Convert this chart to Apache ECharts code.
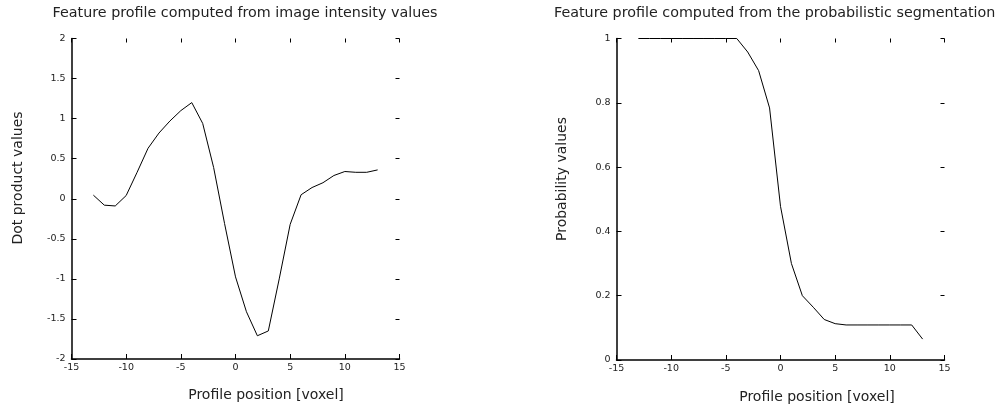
<!DOCTYPE html>
<html><head><meta charset="utf-8">
<script src="https://cdn.jsdelivr.net/npm/echarts@6/dist/echarts.min.js"></script>
<style>html,body{margin:0;padding:0;background:#fff}#c{width:997px;height:405px}</style>
</head><body><div id="c"></div>
<script>
const positions = [-13,-12,-11,-10,-9,-8,-7,-6,-5,-4,-3,-2,-1,0,1,2,3,4,5,6,7,8,9,10,11,12,13];
const dotValues = [0.045,-0.08,-0.09,0.04,0.33,0.63,0.82,0.97,1.10,1.20,0.94,0.39,-0.31,-0.975,-1.41,-1.71,-1.65,-1.0,-0.32,0.05,0.14,0.20,0.29,0.34,0.33,0.33,0.36];
const probValues = [1,1,1,1,1,1,1,1,1,1,0.958,0.90,0.784,0.478,0.30,0.20,0.164,0.126,0.113,0.109,0.109,0.109,0.109,0.109,0.109,0.109,0.065];
const leftTitle = 'Feature profile computed from image intensity values';
const rightTitle = 'Feature profile computed from the probabilistic segmentation';
const xName = 'Profile position [voxel]';
const leftYName = 'Dot product values';
const rightYName = 'Probability values';

const font = 'DejaVu Sans';
const lbl = {fontFamily: font, fontSize: 9.5, color: '#222'};
function xAxes(grid) {
  return [
    {gridIndex: grid, type: 'value', min: -15, max: 15, interval: 5, position: 'bottom',
     axisLine: {show: true, onZero: false, lineStyle: {color: '#000', width: 1.5}},
     axisTick: {show: true, inside: true, length: 5, lineStyle: {color: '#000', width: 1}},
     axisLabel: Object.assign({margin: 4}, lbl), splitLine: {show: false}},
    {gridIndex: grid, type: 'value', min: -15, max: 15, interval: 5, position: 'top',
     axisLine: {show: false, onZero: false},
     axisTick: {show: true, inside: true, length: 4, lineStyle: {color: '#000', width: 1}},
     axisLabel: {show: false}, splitLine: {show: false}}
  ];
}
function yAxes(grid, min, max, interval) {
  return [
    {gridIndex: grid, type: 'value', min, max, interval, position: 'left',
     axisLine: {show: true, onZero: false, lineStyle: {color: '#000', width: 1.5}},
     axisTick: {show: true, inside: true, length: 5, lineStyle: {color: '#000', width: 1}},
     axisLabel: Object.assign({margin: 6}, lbl), splitLine: {show: false}},
    {gridIndex: grid, type: 'value', min, max, interval, position: 'right',
     axisLine: {show: false, onZero: false},
     axisTick: {show: true, inside: true, length: 4, lineStyle: {color: '#000', width: 1}},
     axisLabel: {show: false}, splitLine: {show: false}}
  ];
}
const tStyle = {fontFamily: font, fontSize: 14.3, fontWeight: 'normal', color: '#222'};
const nStyle = {fontFamily: font, fontSize: 14, fill: '#222', align: 'center', verticalAlign: 'middle'};
const chart = echarts.init(document.getElementById('c'));
chart.setOption({
  animation: false,
  backgroundColor: '#fff',
  title: [
    {text: leftTitle, left: 240, top: 1, textAlign: 'center', textStyle: tStyle},
    {text: rightTitle, left: 549, top: 1, textAlign: 'left', textStyle: tStyle}
  ],
  grid: [
    {left: 71.5, top: 38.5, width: 328, height: 320.5},
    {left: 616.5, top: 38.5, width: 328, height: 321.5}
  ],
  xAxis: xAxes(0).concat(xAxes(1)),
  yAxis: yAxes(0, -2, 2, 0.5).concat(yAxes(1, 0, 1, 0.2)),
  graphic: [
    {type: 'text', x: 266, y: 395, style: Object.assign({text: xName}, nStyle)},
    {type: 'text', x: 817, y: 397, style: Object.assign({text: xName}, nStyle)},
    {type: 'text', x: 18, y: 178, rotation: Math.PI / 2, style: Object.assign({text: leftYName}, nStyle)},
    {type: 'text', x: 562, y: 179, rotation: Math.PI / 2, style: Object.assign({text: rightYName}, nStyle)}
  ],
  series: [
    {type: 'line', xAxisIndex: 0, yAxisIndex: 0, data: positions.map((p, i) => [p, dotValues[i]]),
     showSymbol: false, lineStyle: {color: '#000', width: 1}, silent: true},
    {type: 'line', xAxisIndex: 2, yAxisIndex: 2, data: positions.map((p, i) => [p, probValues[i]]),
     showSymbol: false, lineStyle: {color: '#000', width: 1}, silent: true}
  ]
});
</script></body></html>
